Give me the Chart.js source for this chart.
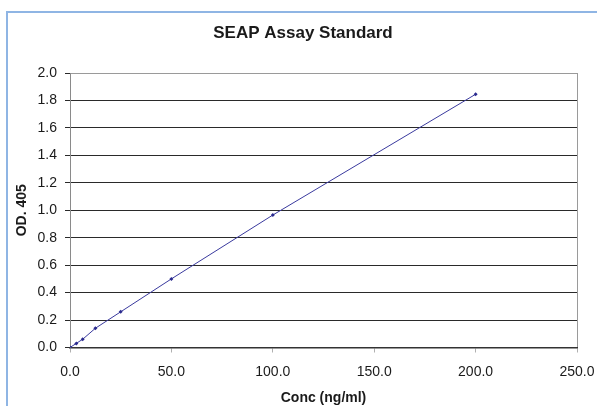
<!DOCTYPE html>
<html>
<head>
<meta charset="utf-8">
<script src="https://cdn.jsdelivr.net/npm/chart.js"></script>
<style>
  html, body { margin: 0; padding: 0; background: #fff; }
  #wrap { position: relative; width: 597px; height: 406px; overflow: hidden; }
  #frame { position: absolute; left: 6px; top: 11px; width: 700px; height: 500px;
           border-left: 2px solid #8fb5e4; border-top: 2px solid #8fb5e4; }
  canvas { position: absolute; left: 0; top: 0; }
</style>
</head>
<body>
<div id="wrap">
  <div id="frame"></div>
  <canvas id="myChart"></canvas>
</div>
<script>
// standard curve values
let conc = [0, 3.125, 6.25, 12.5, 25, 50, 100, 200]
let od = [0.0, 0.03, 0.06, 0.14, 0.26, 0.50, 0.965, 1.845]
let xTicks = [0, 50, 100, 150, 200, 250]
let yTicks = [0, 0.2, 0.4, 0.6, 0.8, 1.0, 1.2, 1.4, 1.6, 1.8, 2.0]

let points = conc.map((c, i) => ({ x: c, y: od[i] }))
let fontName = '"Liberation Sans", Arial, sans-serif'

// excel centers the title on its own frame, a bit right of canvas center
const titleShift = {
    id: 'titleShift',
    afterLayout(chart) {
        if (chart.titleBlock) {
            chart.titleBlock.left = 9;
            chart.titleBlock.right = 597;
        }
    }
}

let ctx = document.getElementById('myChart').getContext('2d');
let myChart = new Chart(ctx, {
    type: 'scatter',
    data: {
        datasets: [{
            label: 'OD. 405',
            data: points,
            showLine: true,
            borderColor: '#3a3a9e',
            backgroundColor: '#2a2a8e',
            borderWidth: 1,
            pointStyle: 'rectRot',
            pointRadius: 2,
            pointBorderWidth: 0,
            pointHoverRadius: 2
        }]
    },
    plugins: [titleShift],
    options: {
        responsive: true,
        maintainAspectRatio: false,
        animation: false,
        layout: { padding: { left: 0, right: 20, top: 0, bottom: 0 } },
        plugins: {
            legend: { display: false },
            tooltip: { enabled: false },
            title: {
                display: true,
                text: 'SEAP Assay Standard',
                color: '#1a1a1a',
                font: { family: fontName, size: 17, weight: 'bold' },
                padding: { top: 23, bottom: 29.6 }
            }
        },
        scales: {
            x: {
                type: 'linear',
                min: 0,
                max: 250,
                afterBuildTicks: (scale) => { scale.ticks = xTicks.map(v => ({ value: v })) },
                afterFit: (scale) => {
                    scale.height = 58.5;
                    scale.paddingRight = 0;
                },
                ticks: {
                    color: '#1a1a1a',
                    padding: 11,
                    font: { family: fontName, size: 14 },
                    callback: (v) => Number(v).toFixed(1)
                },
                grid: {
                    color: (c) => c.tick && c.tick.value === 250 ? '#9a9a9a' : 'rgba(0,0,0,0)',
                    tickColor: '#b0b0b0',
                    tickLength: 5
                },
                border: { color: '#333333', width: 1.5 },
                title: {
                    display: true,
                    text: 'Conc (ng/ml)',
                    color: '#1a1a1a',
                    font: { family: fontName, size: 14, weight: 'bold' },
                    padding: { top: 0, bottom: -1 }
                }
            },
            y: {
                type: 'linear',
                min: 0,
                max: 2.0,
                afterBuildTicks: (scale) => { scale.ticks = yTicks.map(v => ({ value: v })) },
                afterFit: (scale) => { scale.width = 70 },
                ticks: {
                    color: '#1a1a1a',
                    padding: 8,
                    font: { family: fontName, size: 14 },
                    callback: (v) => Number(v).toFixed(1)
                },
                grid: {
                    color: (c) => c.tick && c.tick.value === 2 ? '#9a9a9a' : '#2a2a2a',
                    tickColor: '#2a2a2a',
                    tickLength: 5
                },
                border: { color: '#8a8a8a', width: 1 },
                title: {
                    display: true,
                    text: 'OD. 405',
                    color: '#1a1a1a',
                    font: { family: fontName, size: 14, weight: 'bold' },
                    padding: { top: 14, bottom: 0 }
                }
            }
        }
    }
});
</script>
</body>
</html>
